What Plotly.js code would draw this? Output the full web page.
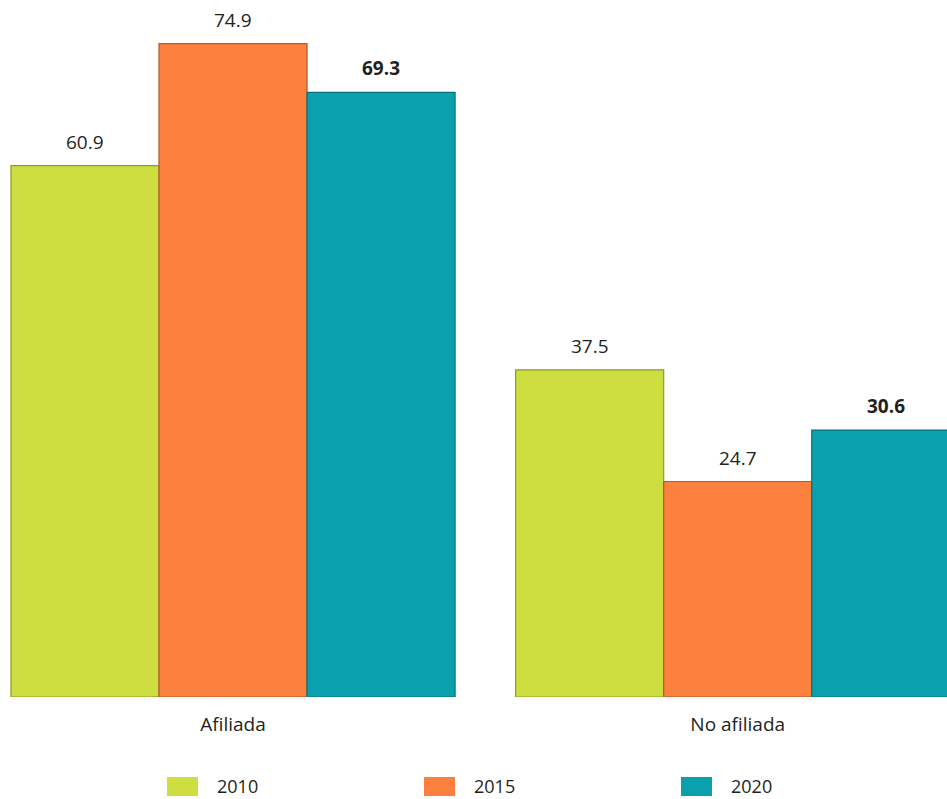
<!DOCTYPE html>
<html>
<head>
<meta charset="utf-8">
<script src="https://cdn.plot.ly/plotly-3.0.1.min.js"></script>
<style>html,body{margin:0;padding:0;background:#fff;}#chart{width:947px;height:799px;}</style>
</head>
<body>
<div id="chart"></div>
<script>
// ---- data ----
const categories = ['Afiliada', 'No afiliada'];
const seriesNames = ['2010', '2015', '2020'];
const values2010 = [60.9, 37.5];
const values2015 = [74.9, 24.7];
const values2020 = [69.3, 30.6];
const seriesValues = [values2010, values2015, values2020];
const boldSeries = [false, false, true];

// ---- styles ----
const colors = ['#CEDE40', '#FC803E', '#0AA0AE'];
const edgeColors = ['#8E9A2A', '#B5582A', '#06707A'];
const fontFamily = '"Open Sans", "Noto Sans", sans-serif';
const textColor = '#231F20';
const bargap = 0.12;
const W = 947, H = 799, B = 102;

const traces = seriesNames.map((name, i) => ({
  type: 'bar',
  name: name,
  x: categories,
  y: seriesValues[i],
  marker: {color: colors[i], line: {color: edgeColors[i], width: 1.2}},
  showlegend: false,
  hoverinfo: 'x+y+name'
}));

const annotations = [];
const step = (1 - bargap) / seriesNames.length;
seriesValues.forEach((vals, i) => {
  vals.forEach((v, c) => {
    annotations.push({
      x: c + (i - (seriesNames.length - 1) / 2) * step,
      y: v,
      xref: 'x', yref: 'y',
      text: boldSeries[i] ? '<b>' + v.toFixed(1) + '</b>' : v.toFixed(1),
      showarrow: false,
      yanchor: 'bottom',
      yshift: 9,
      font: {family: fontFamily, size: 19, color: textColor}
    });
  });
});

// custom legend (wide swatches as in the reference)
const plotH = H - B;
const shapes = [];
const legendX = [167, 424, 681];
seriesNames.forEach((name, i) => {
  shapes.push({
    type: 'rect', xref: 'paper', yref: 'paper',
    x0: legendX[i] / W, x1: (legendX[i] + 31) / W,
    y0: (plotH - 777) / plotH, y1: (plotH - 796) / plotH,
    fillcolor: colors[i], line: {width: 0}
  });
  annotations.push({
    xref: 'paper', yref: 'paper',
    x: (legendX[i] + 49) / W, y: (plotH - 786) / plotH,
    xanchor: 'left', yanchor: 'middle',
    text: name, showarrow: false,
    borderpad: 0,
    font: {family: fontFamily, size: 18, color: textColor}
  });
});

const layout = {
  width: W, height: H,
  margin: {l: 0, r: 0, t: 0, b: B, pad: 0},
  paper_bgcolor: '#ffffff',
  plot_bgcolor: '#ffffff',
  barmode: 'group',
  bargap: bargap,
  bargroupgap: 0,
  font: {family: fontFamily, color: textColor},
  xaxis: {
    type: 'category',
    range: [-0.4617, 1.4147],
    showgrid: false, zeroline: false, showline: false,
    ticks: '',
    ticklabelstandoff: 14,
    tickfont: {family: fontFamily, size: 19, color: textColor},
    fixedrange: true
  },
  yaxis: {
    range: [0, 79.89],
    visible: false,
    showgrid: false, zeroline: false,
    fixedrange: true
  },
  annotations: annotations,
  shapes: shapes
};

Plotly.newPlot('chart', traces, layout, {displayModeBar: false, staticPlot: true});
</script>
</body>
</html>
